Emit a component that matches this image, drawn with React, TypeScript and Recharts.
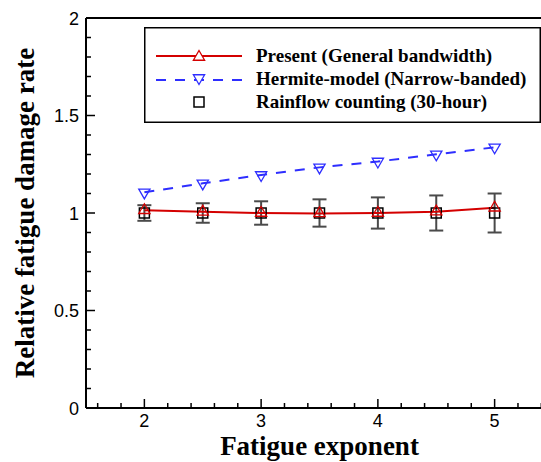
import React from 'react';
import {
  ComposedChart,
  Line,
  Scatter,
  XAxis,
  YAxis,
  ErrorBar,
  ReferenceLine,
  Legend,
} from 'recharts';

const EXPONENTS = [2, 2.5, 3, 3.5, 4, 4.5, 5];
const PRESENT = [1.014, 1.006, 1.0, 0.998, 1.0, 1.007, 1.027];
const HERMITE = [1.106, 1.152, 1.195, 1.234, 1.264, 1.301, 1.337];
const RAINFLOW = [1.0, 1.0, 1.0, 1.0, 1.0, 1.0, 1.0];
const RAINFLOW_ERR = [0.04, 0.05, 0.06, 0.07, 0.08, 0.09, 0.1];

const SERIES_NAMES = [
  'Present (General bandwidth)',
  'Hermite-model (Narrow-banded)',
  'Rainflow counting (30-hour)',
];

const X_TICKS = [1.6, 1.8, 2, 2.2, 2.4, 2.6, 2.8, 3, 3.2, 3.4, 3.6, 3.8, 4, 4.2, 4.4, 4.6, 4.8, 5, 5.2, 5.4];
const X_LABELS = [2, 3, 4, 5];
const Y_TICKS = [0, 0.1, 0.2, 0.3, 0.4, 0.5, 0.6, 0.7, 0.8, 0.9, 1, 1.1, 1.2, 1.3, 1.4, 1.5, 1.6, 1.7, 1.8, 1.9, 2];
const Y_LABELS = [0, 0.5, 1, 1.5, 2];

const RED = '#d40000';
const BLUE = '#2e2eff';
const SANS = '"Liberation Sans", Arial, sans-serif';
const SERIF = '"Liberation Serif", "Times New Roman", serif';

const data = EXPONENTS.map((x, i) => ({
  x,
  present: PRESENT[i],
  hermite: HERMITE[i],
  rainflow: RAINFLOW[i],
  err: RAINFLOW_ERR[i],
}));

const isLabel = (v: number, list: number[]) => list.some((l) => Math.abs(l - v) < 1e-6);

const upTri = (cx: number, cy: number, r = 6.5) =>
  `M${cx},${cy - r} L${cx + r * 0.866},${cy + r / 2} L${cx - r * 0.866},${cy + r / 2} Z`;
const downTri = (cx: number, cy: number, r = 6.5) =>
  `M${cx},${cy + r} L${cx + r * 0.866},${cy - r / 2} L${cx - r * 0.866},${cy - r / 2} Z`;

const XTick = (props: any) => {
  const { x, y, payload } = props;
  const major = isLabel(payload.value, X_LABELS);
  return (
    <g>
      <line x1={x} x2={x} y1={y} y2={y - (major ? 9 : 5)} stroke="#000" strokeWidth={1.5} />
      {major && (
        <text x={x} y={y + 19} textAnchor="middle" fontFamily={SANS} fontSize={18} fill="#000">
          {payload.value}
        </text>
      )}
    </g>
  );
};

const YTick = (props: any) => {
  const { x, y, payload } = props;
  const major = isLabel(payload.value, Y_LABELS);
  return (
    <g>
      <line x1={x} x2={x + (major ? 9 : 5)} y1={y} y2={y} stroke="#000" strokeWidth={1.5} />
      {major && (
        <text x={x - 7} y={y + 6.5} textAnchor="end" fontFamily={SANS} fontSize={18} fill="#000">
          {payload.value}
        </text>
      )}
    </g>
  );
};

const PresentDot = (props: any) => (
  <path key={`p-${props.index}`} d={upTri(props.cx, props.cy)} fill="none" stroke={RED} strokeWidth={1.3} />
);
const HermiteDot = (props: any) => (
  <path key={`h-${props.index}`} d={downTri(props.cx, props.cy)} fill="none" stroke={BLUE} strokeWidth={1.3} />
);
const SquareShape = (props: any) => (
  <rect x={props.cx - 5} y={props.cy - 5} width={10} height={10} fill="none" stroke="#000" strokeWidth={1.5} />
);

const LegendBox = () => (
  <svg width={397} height={96} style={{ display: 'block' }}>
    <rect x={0.75} y={0.75} width={395.5} height={94.5} fill="#fff" stroke="#000" strokeWidth={1.5} />
    <line x1={12} x2={98} y1={29} y2={29} stroke={RED} strokeWidth={2} />
    <path d={upTri(55, 30)} fill="#fff" stroke={RED} strokeWidth={1.3} />
    <line x1={12} x2={98} y1={53} y2={53} stroke={BLUE} strokeWidth={2} strokeDasharray="10 9" />
    <path d={downTri(55, 51)} fill="#fff" stroke={BLUE} strokeWidth={1.3} />
    <rect x={50} y={70} width={10} height={10} fill="none" stroke="#000" strokeWidth={1.5} />
    {SERIES_NAMES.map((name, i) => (
      <text key={name} x={112} y={35 + i * 23} fontFamily={SERIF} fontWeight="bold" fontSize={19} fill="#000">
        {name}
      </text>
    ))}
  </svg>
);

const App: React.FC = () => (
  <div style={{ position: 'absolute', left: 0, top: 0, width: 541, height: 462, overflow: 'hidden', background: '#fff' }}>
    <ComposedChart width={553} height={462} data={data} margin={{ top: 18, right: 0, bottom: 0, left: 0 }}>
      <XAxis
        dataKey="x"
        type="number"
        domain={[1.5, 5.5]}
        ticks={X_TICKS}
        interval={0}
        height={54}
        tickSize={0}
        tickMargin={0}
        tickLine={false}
        tick={<XTick />}
        axisLine={{ stroke: '#000', strokeWidth: 2 }}
        label={{
          content: (p: any) => {
            const vb = p.viewBox;
            return (
              <text x={vb.x + vb.width / 2} y={vb.y + 47} textAnchor="middle" fontFamily={SERIF} fontWeight="bold" fontSize={27} fill="#000">
                Fatigue exponent
              </text>
            );
          },
        }}
      />
      <YAxis
        type="number"
        domain={[0, 2]}
        ticks={Y_TICKS}
        interval={0}
        width={86}
        tickSize={0}
        tickMargin={0}
        tickLine={false}
        tick={<YTick />}
        axisLine={{ stroke: '#000', strokeWidth: 2 }}
        label={{
          content: (p: any) => {
            const vb = p.viewBox;
            const cx = vb.x + 25;
            const cy = vb.y + vb.height / 2;
            return (
              <text x={cx} y={cy} transform={`rotate(-90 ${cx} ${cy})`} textAnchor="middle" dominantBaseline="central" fontFamily={SERIF} fontWeight="bold" fontSize={27} fill="#000">
                Relative fatigue damage rate
              </text>
            );
          },
        }}
      />
      <ReferenceLine y={2} stroke="#000" strokeWidth={2} />
      <Line
        dataKey="hermite"
        name={SERIES_NAMES[1]}
        stroke={BLUE}
        strokeWidth={2}
        strokeDasharray="10 9"
        dot={HermiteDot}
        isAnimationActive={false}
      />
      <Scatter dataKey="rainflow" name={SERIES_NAMES[2]} shape={SquareShape} isAnimationActive={false}>
        <ErrorBar dataKey="err" direction="y" width={7} stroke="#4a4a4a" strokeWidth={2} />
      </Scatter>
      <Line
        dataKey="present"
        name={SERIES_NAMES[0]}
        stroke={RED}
        strokeWidth={2}
        dot={PresentDot}
        isAnimationActive={false}
      />
      <Legend
        layout="horizontal"
        verticalAlign="middle"
        align="center"
        content={() => <LegendBox />}
        wrapperStyle={{ position: 'absolute', left: 144, top: 27, width: 397, height: 96 }}
      />
    </ComposedChart>
  </div>
);

export default App;
